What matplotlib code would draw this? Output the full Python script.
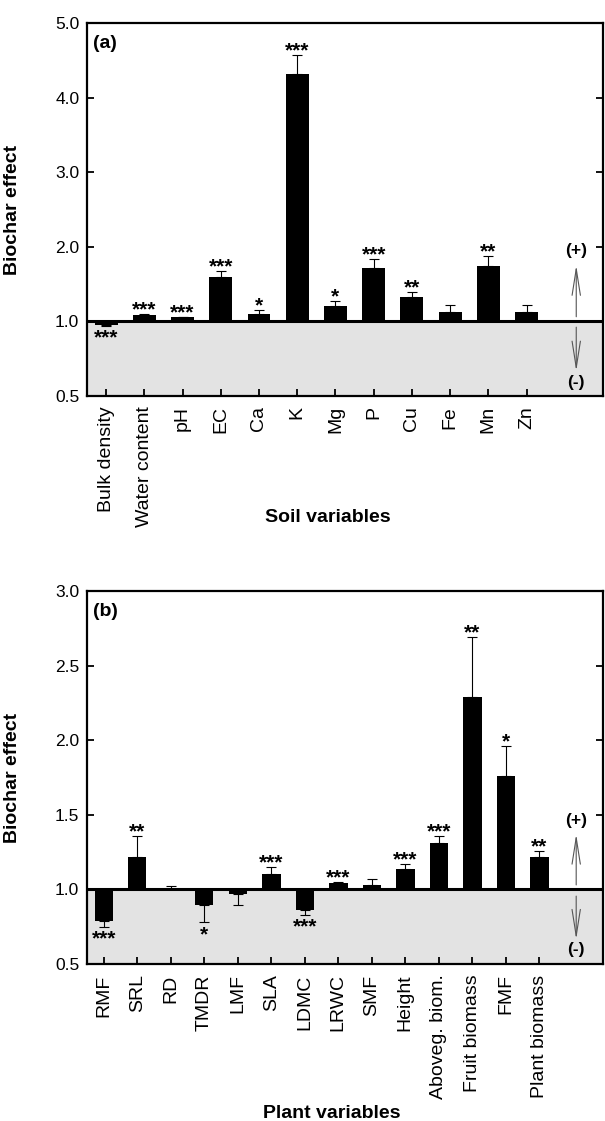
import numpy as np
import matplotlib
matplotlib.use("Agg")
import matplotlib.pyplot as plt

plt.rcParams["font.family"] = ["Liberation Sans", "DejaVu Sans"]

# Soil response ratios (biochar / control)
soil_vars = ["Bulk density", "Water content", "pH", "EC", "Ca", "K", "Mg", "P",
             "Cu", "Fe", "Mn", "Zn"]
soil_effect = [0.975, 1.08, 1.05, 1.60, 1.10, 4.32, 1.21, 1.72, 1.32, 1.12, 1.74, 1.12]
soil_err = [0.005, 0.02, 0.01, 0.08, 0.05, 0.26, 0.06, 0.12, 0.07, 0.10, 0.13, 0.10]
soil_sig = ["***", "***", "***", "***", "*", "***", "*", "***", "**", "", "**", ""]

# Plant response ratios
plant_vars = ["RMF", "SRL", "RD", "TMDR", "LMF", "SLA", "LDMC", "LRWC", "SMF",
              "Height", "Aboveg. biom.", "Fruit biomass", "FMF", "Plant biomass"]
plant_effect = [0.79, 1.22, 1.005, 0.895, 0.97, 1.10, 0.86, 1.04, 1.03, 1.14,
                1.31, 2.29, 1.76, 1.22]
plant_err = [0.04, 0.14, 0.02, 0.115, 0.075, 0.05, 0.03, 0.01, 0.04, 0.03,
             0.05, 0.40, 0.20, 0.04]
plant_sig = ["***", "**", "", "*", "", "***", "***", "***", "", "***", "***",
             "**", "*", "**"]

W, H = 605, 1121


def stretch_below_one(v):
    # soil panel: the 0.5-1.0 range gets the same height as 1.0-2.0
    v = np.asarray(v, dtype=float)
    return np.where(v >= 1, v, 2 * v - 1)


def unstretch(u):
    u = np.asarray(u, dtype=float)
    return np.where(u >= 1, u, (u + 1) / 2)


def panel(ax, names, vals, errs, sig, xmax, width, yticks, tag, arrow_x, arrow_y):
    x = np.arange(len(names))
    vals = np.asarray(vals)
    errs = np.asarray(errs)
    ax.axhspan(0.5, 1.0, color="#e3e3e3", zorder=0, lw=0)
    ax.bar(x, vals - 1, bottom=1, width=width, color="black", zorder=2)
    lower = np.where(vals < 1, errs, 0)
    upper = np.where(vals >= 1, errs, 0)
    ax.errorbar(x, vals, yerr=[lower, upper], fmt="none", ecolor="black",
                elinewidth=0.8, capsize=3.6, capthick=0.8, zorder=3)
    ax.axhline(1.0, color="black", lw=2.2, zorder=4)

    for xi, v, e, s in zip(x, vals, errs, sig):
        if not s:
            continue
        if v >= 1:
            ax.annotate(s, (xi, v + e), xytext=(0, -1.0), textcoords="offset points",
                        ha="center", va="baseline", fontsize=15, fontweight="bold")
        else:
            ax.annotate(s, (xi, v - e), xytext=(0, -13.0), textcoords="offset points",
                        ha="center", va="baseline", fontsize=15, fontweight="bold")

    # direction markers on the right
    up0, up1, plus_y, dn0, dn1, minus_y = arrow_y
    arrow = dict(arrowstyle="->,head_length=1.9,head_width=0.3", color="#555555",
                 lw=0.8, shrinkA=0, shrinkB=0)
    ax.annotate("", xy=(arrow_x, up1), xytext=(arrow_x, up0), arrowprops=arrow)
    ax.annotate("", xy=(arrow_x, dn1), xytext=(arrow_x, dn0), arrowprops=arrow)
    ax.text(arrow_x, plus_y, "(+)", ha="center", va="center", fontsize=12.5,
            fontweight="bold")
    ax.text(arrow_x, minus_y, "(-)", ha="center", va="center", fontsize=12.5,
            fontweight="bold")

    ax.set_xlim(-0.5, xmax)
    ax.set_ylim(0.5, yticks[-1])
    ax.set_yticks(yticks)
    ax.set_yticklabels([f"{t:.1f}" for t in yticks])
    ax.set_xticks(x)
    ax.set_xticklabels(names, rotation=90)
    ax.tick_params(axis="x", direction="in", length=5, width=1.3, pad=7.5,
                   labelsize=14)
    ax.tick_params(axis="y", direction="in", length=5, width=1.3, pad=5.5,
                   labelsize=12.5, right=True)
    for sp in ax.spines.values():
        sp.set_linewidth(1.6)
    ax.text(0.012, 0.968, tag, transform=ax.transAxes, ha="left", va="top",
            fontsize=14, fontweight="bold")
    ax.set_ylabel("Biochar effect", fontsize=14, fontweight="bold")
    ax.yaxis.set_label_coords(-0.128, 0.5)


fig = plt.figure(figsize=(W / 100, H / 100), dpi=100)
left, right = 87 / W, 603 / W
ax_a = fig.add_axes([left, 1 - 395.7 / H, right - left, (395.7 - 23.3) / H])
ax_b = fig.add_axes([left, 1 - 964 / H, right - left, (964 - 591) / H])

ax_a.set_yscale("function", functions=(stretch_below_one, unstretch))
panel(ax_a, soil_vars, soil_effect, soil_err, soil_sig, 13.0, 0.6,
      [0.5, 1.0, 2.0, 3.0, 4.0, 5.0], "(a)", 12.3,
      (1.06, 1.75, 1.95, 0.96, 0.665, 0.59))
panel(ax_b, plant_vars, plant_effect, plant_err, plant_sig, 14.9, 0.55,
      [0.5, 1.0, 1.5, 2.0, 2.5, 3.0], "(b)", 14.1,
      (1.03, 1.37, 1.46, 0.955, 0.665, 0.595))

fig.text(328 / W, 1 - 517 / H, "Soil variables", ha="center", va="center",
         fontsize=14, fontweight="bold")
fig.text(332 / W, 1 - 1113 / H, "Plant variables", ha="center", va="center",
         fontsize=14, fontweight="bold")

fig.savefig("out.png", dpi=100)
